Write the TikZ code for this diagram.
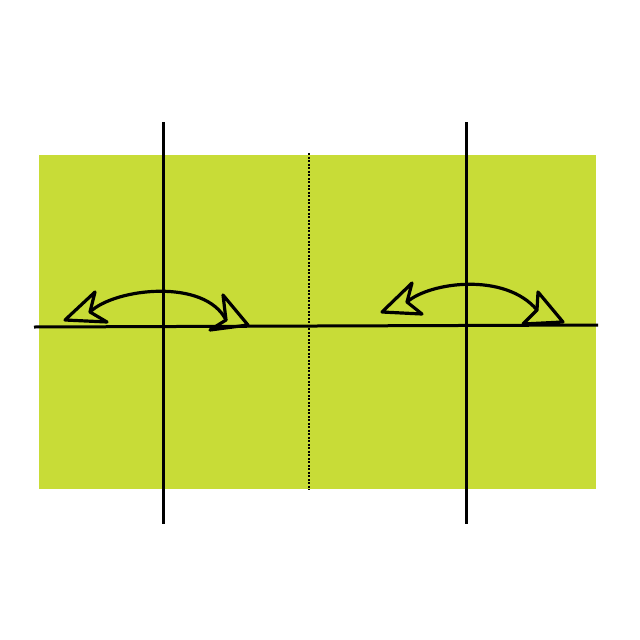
\documentclass[tikz,border=0pt]{standalone}
\usepackage{xcolor}
\usetikzlibrary{math}
\definecolor{mygreen}{RGB}{200,220,55}

\begin{document}
\begin{tikzpicture}[x=1pt,y=-1pt]
\tikzmath{
\xa=163;
\xb=466;
\lw=3.2;
}
\tikzset{swing/.style={line width=\lw pt, line join=round, line cap=round}}
\useasboundingbox (0,0) rectangle (640,640);

\fill[mygreen] (39,155) rectangle (596,489);

%%%%%%%%%% axes
\draw[line width=3pt] (34,327) -- (598,325);
\draw[line width=3pt] (\xa,122) -- (\xa,524);
\draw[line width=3pt] (\xb,122) -- (\xb,524);
\draw[line width=2pt, dash pattern=on 2pt off 1.5pt] (309,153) -- (309,490);

%%%%%%%%%% left swing
\draw[swing] (90,312) .. controls (115,288) and (205,278) .. (226,320);
\draw[swing] (65,320) -- (95,292) -- (90,312) -- (107,322) -- cycle;
\draw[swing] (223,295) -- (248,325) -- (210,330) -- (226,320) -- cycle;

%%%%%%%%%% right swing
\draw[swing] (407,302) .. controls (430,282) and (505,272) .. (537,310);
\draw[swing] (382,312) -- (412,283) -- (407,302) -- (422,314) -- cycle;
\draw[swing] (538,292) -- (563,322) -- (523,324) -- (537,310) -- cycle;

\end{tikzpicture}
\end{document}
